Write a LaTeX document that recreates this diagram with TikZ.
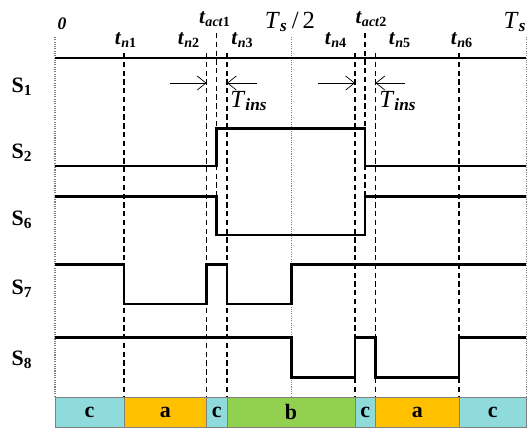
\documentclass[tikz,border=0pt]{standalone}
\usepackage{fontspec}
\setmainfont{Liberation Serif}
\usetikzlibrary{arrows.meta}
\definecolor{modec}{RGB}{143,219,219}
\definecolor{modea}{RGB}{255,192,0}
\definecolor{modeb}{RGB}{146,208,80}
\newcommand{\tname}[2]{\textbf{\textit{t}\textsubscript{\textit{#1}#2}}}
\newcommand{\Tname}[1]{\textit{T}\textsubscript{\textbf{\textit{#1}}}}

\begin{document}
\begin{tikzpicture}[x=0.02cm,y=-0.02cm,>={Straight Barb[length=5pt,width=8pt]},
	sig/.style={line width=1.4pt},
	tline/.style={line width=0.6pt,dash pattern=on 3pt off 2pt},
	halfline/.style={line width=0.6pt,gray,dash pattern=on 0.6pt off 0.7pt},
	slab/.style={font=\fontsize{12.5}{12.5}\selectfont\bfseries},
	timelab/.style={font=\fontsize{12}{12}\selectfont},
	biglab/.style={font=\fontsize{14}{14}\selectfont},
	modelab/.style={font=\fontsize{12.5}{12.5}\selectfont\bfseries}]
	\useasboundingbox (0,0) rectangle (529,430);
	
	% draw the time lines
	\foreach \x in {55,291.5,526.5} {
		\draw[halfline] (\x,37) -- (\x,397);
	}
	\foreach \x in {124,206.5,227,355,375.5,459} {
		\draw[tline] (\x,53) -- (\x,397);
	}
	\foreach \x in {216.5,365} {
		\draw[tline] (\x,33) -- (\x,235);
	}
	
	% draw the mode bar
	\foreach \a/\b/\m/\c [count=\k] in {55/124/c/modec,124/206.5/a/modea,206.5/227/c/modec,227/355/b/modeb,355/375.5/c/modec,375.5/459/a/modea,459/526.5/c/modec} {
		\draw[gray,fill=\c] (\a,397) rectangle (\b,427);
		\node[modelab] (mode\k) at ({(\a+\b)/2},412) {\m};
	}
	
	% draw the switch signals
	\draw[sig] (55,58) -- (526.5,58);
	\draw[sig] (55,166) -- (216.5,166) -- (216.5,128.5) -- (365,128.5) -- (365,166) -- (526.5,166);
	\draw[sig] (55,196.5) -- (216.5,196.5) -- (216.5,235) -- (365,235) -- (365,196.5) -- (526.5,196.5);
	\draw[sig] (55,264.5) -- (124,264.5) -- (124,304) -- (206.5,304) -- (206.5,264.5) -- (227,264.5) -- (227,304) -- (291.5,304) -- (291.5,264.5) -- (526.5,264.5);
	\draw[sig] (55,337.5) -- (291.5,337.5) -- (291.5,377.5) -- (355,377.5) -- (355,337.5) -- (375.5,337.5) -- (375.5,377.5) -- (459,377.5) -- (459,337.5) -- (526.5,337.5);
	
	% names of the switches
	\foreach \n/\y in {1/87,2/153,6/220,7/289,8/360} {
		\node[slab] (s\n) at (22,\y) {S\textsubscript{\n}};
	}
	
	% names of the instants
	\node[timelab] (zero) at (62,24) {\fontsize{10}{10}\selectfont\textbf{\textit{0}}};
	\foreach \n/\x in {1/126,2/189,3/242.5,4/336,5/400,6/462} {
		\node[timelab] (tn\n) at (\x,40) {\tname{n}{\n}};
	}
	\node[timelab] (tact1) at (215,19) {\tname{act}{1}};
	\node[timelab] (tact2) at (371.5,19) {\tname{act}{2}};
	\node[biglab] (half) at (290,22) {\Tname{s}\,/\,2};
	\node[biglab] (period) at (515,22) {\Tname{s}};
	
	% dead time arrows
	\coordinate (ins1a) at (170,83);
	\coordinate (ins1b) at (206.5,83);
	\coordinate (ins1c) at (257,83);
	\coordinate (ins1d) at (227,83);
	\coordinate (ins2a) at (318,83);
	\coordinate (ins2b) at (355,83);
	\coordinate (ins2c) at (405,83);
	\coordinate (ins2d) at (375.5,83);
	\draw[->] (ins1a) -- (ins1b);
	\draw[->] (ins1c) -- (ins1d);
	\draw[->] (ins2a) -- (ins2b);
	\draw[->] (ins2c) -- (ins2d);
	\node[biglab,anchor=west,inner sep=0pt] (tins1) at (230,101) {\Tname{ins}};
	\node[biglab,anchor=west,inner sep=0pt] (tins2) at (379,101) {\Tname{ins}};
\end{tikzpicture}
\end{document}
